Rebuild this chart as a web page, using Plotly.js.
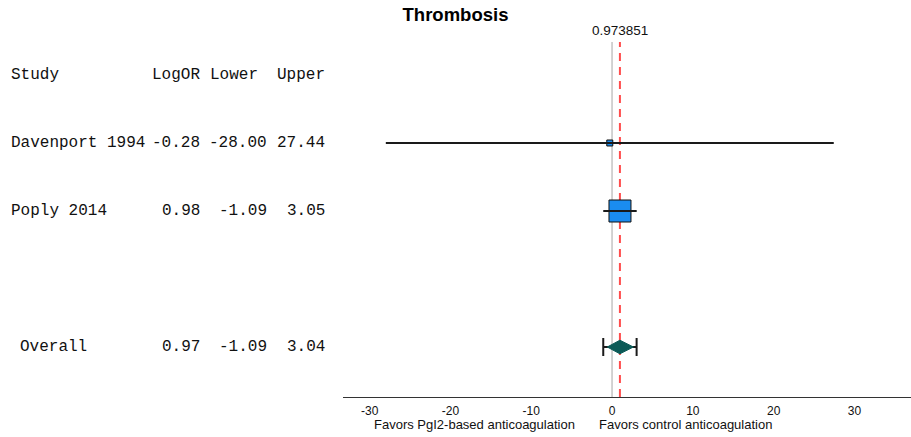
<!DOCTYPE html>
<html>
<head>
<meta charset="utf-8">
<script src="https://cdn.plot.ly/plotly-3.0.1.min.js"></script>
<style>html,body{margin:0;padding:0;background:#fff}#chart{width:911px;height:437px}</style>
</head>
<body>
<div id="chart"></div>
<script>
// ---- data ----
const studies = ["Davenport 1994", "Poply 2014"];
const logOR = [-0.28, 0.98];
const lower = [-28.00, -1.09];
const upper = [27.44, 3.05];
const overallLabel = "Overall";
const overallEst = 0.973851;
const overallLower = -1.09;
const overallUpper = 3.04;
const headers = ["Study", "LogOR", "Lower", "Upper"];
const xTicks = [-30, -20, -10, 0, 10, 20, 30];
const leftFavor = "Favors PgI2-based anticoagulation";
const rightFavor = "Favors control anticoagulation";
const chartTitle = "Thrombosis";

// ---- layout helpers ----
const W = 911, H = 437, ML = 343, MR = 0, MT = 42, MB = 40;
const plotW = W - ML - MR;
const plotH = H - MT - MB;
const px2paper = p => (p - ML) / plotW;
const studyRows = studies.map((s, i) => i + 1);
const overallRow = studies.length + 2;
const mono = "'Courier New', 'Liberation Mono', monospace";
const sans = "Helvetica, Arial, 'Liberation Sans', sans-serif";

const traces = [];
// study squares
traces.push({
  type: 'scatter', mode: 'markers', x: logOR, y: studyRows,
  marker: {symbol: 'square', size: [6, 22], color: '#1a8cf0', opacity: 1, line: {color: '#111', width: 1}},
  hoverinfo: 'skip', showlegend: false
});
// CI lines
studies.forEach((s, i) => {
  traces.push({
    type: 'scatter', mode: 'lines', x: [lower[i], upper[i]], y: [studyRows[i], studyRows[i]],
    line: {color: '#1a1a1a', width: 2}, hoverinfo: 'skip', showlegend: false
  });
});
// overall whisker with caps
traces.push({
  type: 'scatter', mode: 'markers', x: [overallEst], y: [overallRow],
  marker: {size: 1, color: 'rgba(0,0,0,0)'},
  error_x: {type: 'data', symmetric: false, array: [overallUpper - overallEst], arrayminus: [overallEst - overallLower],
            color: '#1a1a1a', thickness: 2, width: 9},
  hoverinfo: 'skip', showlegend: false
});
// overall diamond
const dh = 0.1;
traces.push({
  type: 'scatter', mode: 'lines', fill: 'toself', fillcolor: '#0b5a57',
  x: [overallLower + 0.5, overallEst, overallUpper - 0.4, overallEst, overallLower + 0.5],
  y: [overallRow, overallRow - dh, overallRow, overallRow + dh, overallRow],
  line: {color: '#0b5a57', width: 1}, hoverinfo: 'skip', showlegend: false
});

const annotations = [];
const colRight = [202, 269, 327];
const headRight = [202, 260, 327];
const txtFont = {family: mono, size: 16, color: '#111'};
annotations.push({xref: 'paper', yref: 'y', x: px2paper(8.5), y: 0, xanchor: 'left', yanchor: 'middle',
  text: headers[0], showarrow: false, font: txtFont});
for (let c = 1; c < 4; c++) {
  annotations.push({xref: 'paper', yref: 'y', x: px2paper(headRight[c-1]), y: 0, xanchor: 'right', yanchor: 'middle',
    text: headers[c], showarrow: false, font: txtFont});
}
const addRow = (label, labelX, row, vals) => {
  annotations.push({xref: 'paper', yref: 'y', x: px2paper(labelX), y: row, xanchor: 'left', yanchor: 'middle',
    text: label, showarrow: false, font: txtFont});
  vals.forEach((v, c) => {
    annotations.push({xref: 'paper', yref: 'y', x: px2paper(colRight[c]), y: row, xanchor: 'right', yanchor: 'middle',
      text: v.toFixed(2), showarrow: false, font: txtFont});
  });
};
studies.forEach((s, i) => addRow(s, 8.5, studyRows[i], [logOR[i], lower[i], upper[i]]));
addRow(overallLabel, 18, overallRow, [overallEst, overallLower, overallUpper]);

// overall value label
annotations.push({xref: 'x', yref: 'paper', x: overallEst, y: 1 + 12 / plotH, xanchor: 'center', yanchor: 'middle',
  text: String(overallEst), showarrow: false, font: {family: sans, size: 13.5, color: '#111'}});
// favors labels
annotations.push({xref: 'paper', yref: 'paper', x: px2paper(577), y: -28 / plotH, xanchor: 'right', yanchor: 'middle',
  text: leftFavor, showarrow: false, font: {family: sans, size: 13, color: '#111'}});
annotations.push({xref: 'paper', yref: 'paper', x: px2paper(597), y: -28 / plotH, xanchor: 'left', yanchor: 'middle',
  text: rightFavor, showarrow: false, font: {family: sans, size: 13, color: '#111'}});

const layout = {
  width: W, height: H,
  margin: {l: ML, r: MR, t: MT, b: MB, pad: 0},
  paper_bgcolor: '#fff', plot_bgcolor: '#fff',
  title: {text: '<b>' + chartTitle + '</b>', x: 0.5, xanchor: 'center', y: 1 - 15 / H, yanchor: 'middle',
          xref: 'container', yref: 'container', font: {family: sans, size: 18.5, color: '#000'}},
  xaxis: {range: [-33.3, 37.0], tickvals: xTicks, ticktext: xTicks.map(String), showgrid: false, zeroline: false,
          showline: true, linecolor: '#333', linewidth: 1, ticks: 'outside', ticklen: 3, tickcolor: 'rgba(0,0,0,0)',
          tickfont: {family: sans, size: 12, color: '#111'}, fixedrange: true},
  yaxis: {range: [4.735, -0.485], visible: false, showgrid: false, zeroline: false, fixedrange: true},
  shapes: [
    {type: 'line', xref: 'x', yref: 'paper', x0: 0, x1: 0, y0: 0, y1: 1, line: {color: '#c4c4c4', width: 1.5}, layer: 'below'},
    {type: 'line', xref: 'x', yref: 'paper', x0: overallEst, x1: overallEst, y0: 0, y1: 1, line: {color: '#ff4d4d', width: 2, dash: '8px,6px'}, layer: 'below'}
  ],
  annotations: annotations,
  showlegend: false
};

Plotly.newPlot('chart', traces, layout, {displayModeBar: false, staticPlot: true});
</script>
</body>
</html>
